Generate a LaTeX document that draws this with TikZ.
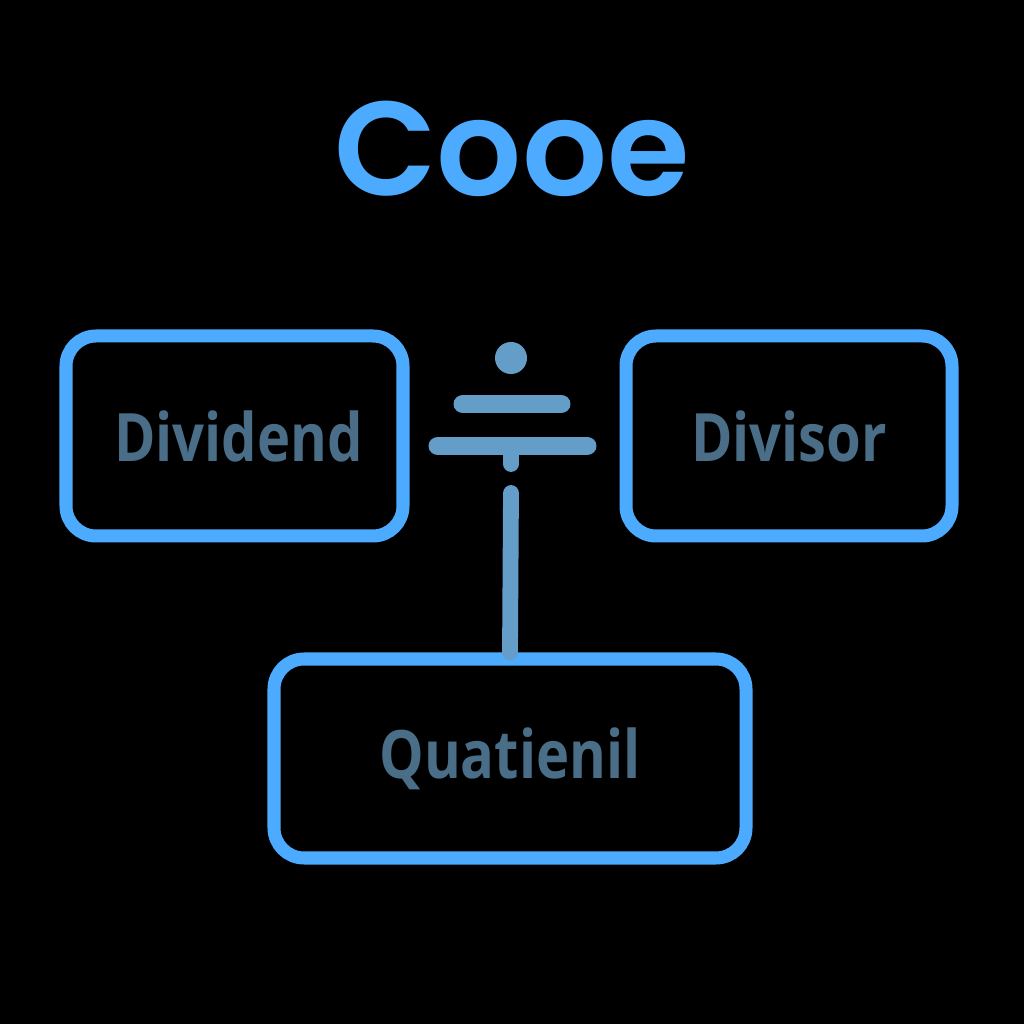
\documentclass[tikz,border=0pt]{standalone}
\usepackage{fontspec}
\newfontfamily\titlefont{Poppins SemiBold}
\newfontfamily\boxfont[FakeStretch=0.84]{Open Sans}
\definecolor{edgeblue}{RGB}{77,171,255}
\definecolor{labelblue}{RGB}{74,110,135}
\definecolor{signblue}{RGB}{100,158,200}
\tikzset{
  opbox/.style={draw=edgeblue,line width=3.7pt,rounded corners=0.3cm,minimum height=2cm,
    text=labelblue,font=\boxfont\bfseries\fontsize{19}{22}\selectfont},
  signbar/.style={signblue,line width=5.4pt,line cap=round}
}
\begin{document}
\begin{tikzpicture}
      \fill [black] (0,0) rectangle (10.24,10.24);
      \useasboundingbox (0,0) rectangle (10.24,10.24);
      \node (title) at (5.12,8.75) {\titlefont\fontsize{38}{44}\selectfont\color{edgeblue}Cooe};
      \node [opbox,minimum width=3.37cm] (dividend) at (2.345,5.88) {\hspace{0.08cm}Dividend};
      \node [opbox,minimum width=3.26cm] (divisor) at (7.89,5.88) {Divisor};
      \node [opbox,minimum width=4.72cm,minimum height=1.99cm] (quotient) at (5.10,2.655) {Quatienil};
      % division sign
      \node [circle,fill=signblue,minimum size=0.32cm,inner sep=0pt] (dot) at (5.11,6.66) {};
      \draw [signbar] (4.63,6.20) -- (5.61,6.20);
      \draw [signbar] (4.38,5.78) coordinate (barl) -- (5.87,5.78) coordinate (barr);
      \draw [signblue,line width=4.5pt,line cap=round] (5.11,5.78) -- (5.11,5.60);
      \coordinate (stem) at (5.11,5.31);
      \draw [signblue,line width=4.5pt,line cap=round] (stem) -- (quotient.north);
\end{tikzpicture}
\end{document}
